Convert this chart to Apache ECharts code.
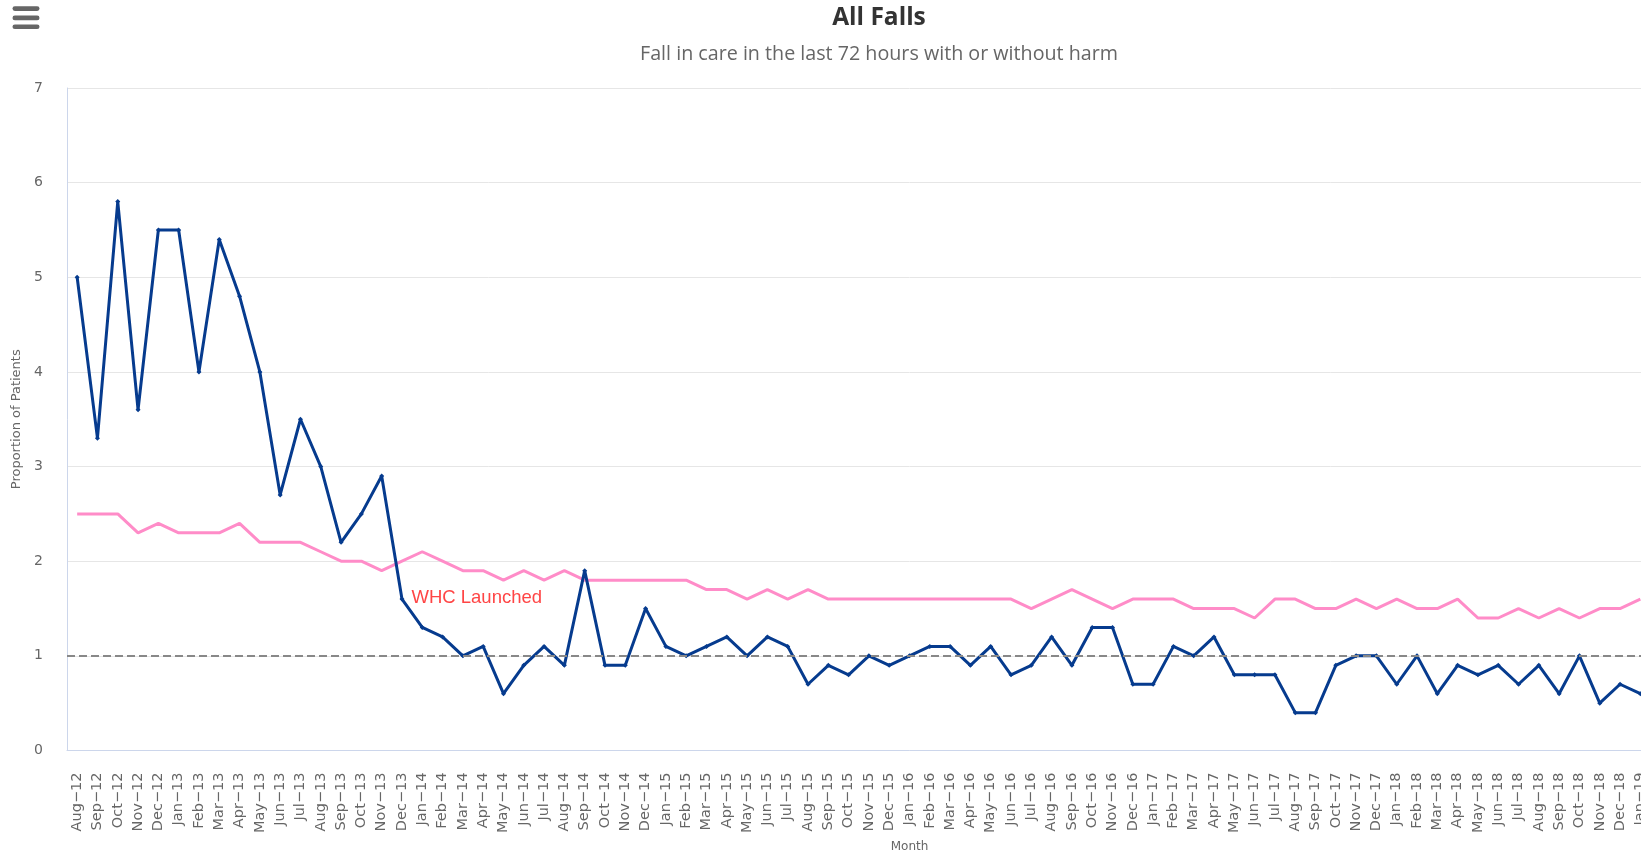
<!DOCTYPE html>
<html>
<head>
<meta charset="utf-8">
<title>All Falls</title>
<script src="https://cdn.jsdelivr.net/npm/echarts@6/dist/echarts.min.js"></script>
<style>
  html, body { margin: 0; padding: 0; overflow: hidden; background: #fff; }
  #chart { width: 1758px; height: 853px; }
</style>
</head>
<body>
<div id="chart"></div>
<script>
// months shown on the category axis (the chart runs on past the right edge of the window)
const months = [
  "Aug-12", "Sep-12", "Oct-12", "Nov-12", "Dec-12",
  "Jan-13", "Feb-13", "Mar-13", "Apr-13", "May-13", "Jun-13", "Jul-13", "Aug-13", "Sep-13", "Oct-13", "Nov-13", "Dec-13",
  "Jan-14", "Feb-14", "Mar-14", "Apr-14", "May-14", "Jun-14", "Jul-14", "Aug-14", "Sep-14", "Oct-14", "Nov-14", "Dec-14",
  "Jan-15", "Feb-15", "Mar-15", "Apr-15", "May-15", "Jun-15", "Jul-15", "Aug-15", "Sep-15", "Oct-15", "Nov-15", "Dec-15",
  "Jan-16", "Feb-16", "Mar-16", "Apr-16", "May-16", "Jun-16", "Jul-16", "Aug-16", "Sep-16", "Oct-16", "Nov-16", "Dec-16",
  "Jan-17", "Feb-17", "Mar-17", "Apr-17", "May-17", "Jun-17", "Jul-17", "Aug-17", "Sep-17", "Oct-17", "Nov-17", "Dec-17",
  "Jan-18", "Feb-18", "Mar-18", "Apr-18", "May-18", "Jun-18", "Jul-18", "Aug-18", "Sep-18", "Oct-18", "Nov-18", "Dec-18",
  "Jan-19", "Feb-19", "Mar-19", "Apr-19", "May-19", "Jun-19"
];

// proportion of patients with a fall (blue line)
const falls = [
  5.0, 3.3, 5.8, 3.6, 5.5,
  5.5, 4.0, 5.4, 4.8, 4.0, 2.7, 3.5, 3.0, 2.2, 2.5, 2.9, 1.6,
  1.3, 1.2, 1.0, 1.1, 0.6, 0.9, 1.1, 0.9, 1.9, 0.9, 0.9, 1.5,
  1.1, 1.0, 1.1, 1.2, 1.0, 1.2, 1.1, 0.7, 0.9, 0.8, 1.0, 0.9,
  1.0, 1.1, 1.1, 0.9, 1.1, 0.8, 0.9, 1.2, 0.9, 1.3, 1.3, 0.7,
  0.7, 1.1, 1.0, 1.2, 0.8, 0.8, 0.8, 0.4, 0.4, 0.9, 1.0, 1.0,
  0.7, 1.0, 0.6, 0.9, 0.8, 0.9, 0.7, 0.9, 0.6, 1.0, 0.5, 0.7,
  0.6
];

// comparison line (pink)
const benchmark = [
  2.5, 2.5, 2.5, 2.3, 2.4,
  2.3, 2.3, 2.3, 2.4, 2.2, 2.2, 2.2, 2.1, 2.0, 2.0, 1.9, 2.0,
  2.1, 2.0, 1.9, 1.9, 1.8, 1.9, 1.8, 1.9, 1.8, 1.8, 1.8, 1.8,
  1.8, 1.8, 1.7, 1.7, 1.6, 1.7, 1.6, 1.7, 1.6, 1.6, 1.6, 1.6,
  1.6, 1.6, 1.6, 1.6, 1.6, 1.6, 1.5, 1.6, 1.7, 1.6, 1.5, 1.6,
  1.6, 1.6, 1.5, 1.5, 1.5, 1.4, 1.6, 1.6, 1.5, 1.5, 1.6, 1.5,
  1.6, 1.5, 1.5, 1.6, 1.4, 1.4, 1.5, 1.4, 1.5, 1.4, 1.5, 1.5,
  1.6
];

const yTicks = [0, 1, 2, 3, 4, 5, 6, 7];
const targetLine = 1;
const launchMonth = "Dec-13";
const launchLabel = "WHC Launched";

const chart = echarts.init(document.getElementById("chart"));

// menu icon, top left
const menuBars = [6.3, 15.6, 24.4].map((y) => ({
  type: "rect",
  left: 12.5,
  top: y,
  shape: { width: 27, height: 4.6, r: 2.3 },
  style: { fill: "#666" }
}));

const option = {
  animation: false,
  textStyle: { fontFamily: "DejaVu Sans" },
  title: [
    {
      text: "All Falls",
      left: "center",
      top: 1,
      textStyle: { fontFamily: "Open Sans", fontSize: 24.5, fontWeight: "bold", color: "#333" }
    },
    {
      text: "Fall in care in the last 72 hours with or without harm",
      left: "center",
      top: 39,
      textStyle: { fontFamily: "Open Sans", fontSize: 19.7, fontWeight: "normal", color: "#666" }
    }
  ],
  graphic: menuBars,
  grid: { left: 67, top: 88, width: 1685, height: 662.5, outerBoundsMode: "none", containLabel: false },
  xAxis: {
    type: "category",
    data: months,
    boundaryGap: true,
    axisLine: { lineStyle: { color: "#ccd6eb", width: 1 } },
    axisTick: { show: false },
    axisLabel: {
      rotate: 90,
      interval: 0,
      margin: 22,
      fontSize: 14.5,
      color: "#666",
      formatter: (v) => v.replace("-", "\u2212")
    },
    name: "Month",
    nameLocation: "middle",
    nameGap: 85,
    nameTextStyle: { fontSize: 12, color: "#666" }
  },
  yAxis: {
    type: "value",
    min: yTicks[0],
    max: yTicks[yTicks.length - 1],
    interval: 1,
    axisLine: { show: true, lineStyle: { color: "#ccd6eb", width: 1 } },
    axisTick: { show: false },
    splitLine: { lineStyle: { color: "#e6e6e6", width: 1 } },
    axisLabel: { fontSize: 14, color: "#666", margin: 24, padding: [8, 0, 0, 0] },
    name: "Proportion of Patients",
    nameLocation: "middle",
    nameGap: 44,
    nameTextStyle: { fontSize: 13, color: "#666" }
  },
  series: [
    {
      name: "Benchmark",
      type: "line",
      data: benchmark,
      symbol: "none",
      color: "#ff8cc8",
      lineStyle: { width: 3, color: "#ff8cc8" },
      z: 2
    },
    {
      name: "All Falls",
      type: "line",
      data: falls,
      symbol: "diamond",
      symbolSize: 5,
      showAllSymbol: true,
      color: "#063b8e",
      lineStyle: { width: 3, color: "#063b8e" },
      z: 3,
      markLine: {
        silent: true,
        symbol: "none",
        label: { show: false },
        lineStyle: { color: "#888", type: [8, 4], width: 2 },
        data: [{ yAxis: targetLine }]
      },
      markPoint: {
        silent: true,
        symbol: "circle",
        symbolSize: 1,
        itemStyle: { color: "rgba(0,0,0,0)" },
        label: {
          show: true,
          formatter: launchLabel,
          position: "right",
          distance: 9,
          offset: [0, -1],
          color: "#ff4545",
          fontFamily: "Liberation Sans",
          fontSize: 18.5
        },
        data: [{ coord: [launchMonth, falls[months.indexOf(launchMonth)]] }]
      }
    }
  ]
};

chart.setOption(option);
</script>
</body>
</html>
